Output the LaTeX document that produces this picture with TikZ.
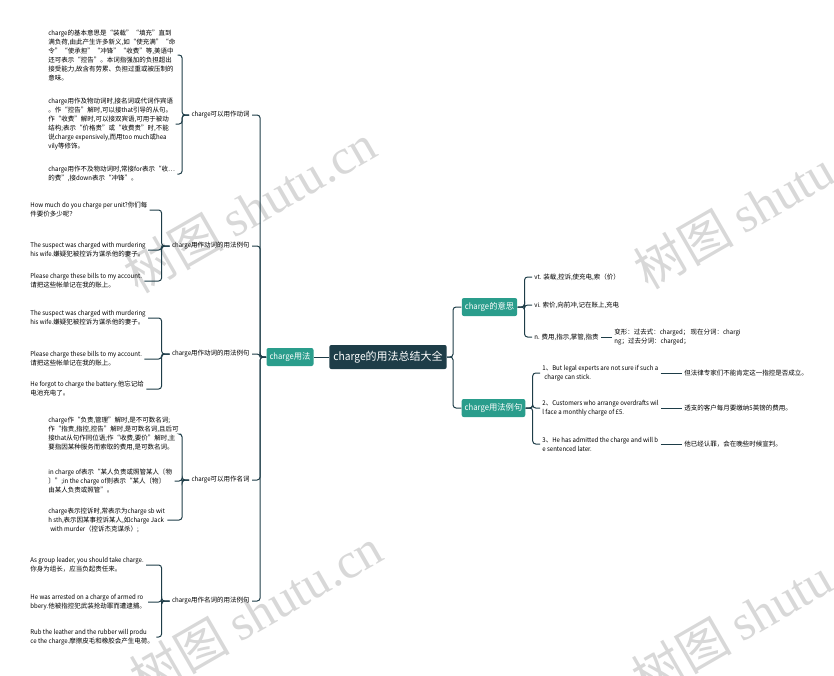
\documentclass[tikz,border=0pt]{standalone}
\usepackage{fontspec}
\setmainfont{Noto Sans CJK SC}[FakeStretch=0.93]
\newfontfamily\cjkfont{Noto Sans CJK SC}
\newfontfamily\wmserif{Liberation Serif}
\usepackage{xcolor}
\usepackage{tikz}
\usetikzlibrary{positioning, calc}

% CJK characters in the unstretched font
\XeTeXinterchartokenstate=1
\newXeTeXintercharclass\cjkcls
\newcount\cjkcnt
\def\setcjkrange#1#2{\cjkcnt=#1\relax\loop\XeTeXcharclass\cjkcnt=\cjkcls\relax\ifnum\cjkcnt<#2\relax\advance\cjkcnt by 1\relax\repeat}
\setcjkrange{"4E00}{"9FFF}
\setcjkrange{"3000}{"303F}
\setcjkrange{"FF00}{"FFEF}
\setcjkrange{"2018}{"201D}
\setcjkrange{"2026}{"2026}
\XeTeXinterchartoks 0 \cjkcls = {\begingroup\cjkfont}
\XeTeXinterchartoks 4095 \cjkcls = {\begingroup\cjkfont}
\XeTeXinterchartoks \cjkcls 0 = {\endgroup}
\XeTeXinterchartoks \cjkcls 4095 = {\endgroup}

\definecolor{rootblue}{HTML}{1E3D48}
\definecolor{topicgreen}{HTML}{2A9D8C}
\definecolor{wmgray}{HTML}{D8D8D8}

\begin{document}
\begin{tikzpicture}[x=1pt, y=-1pt, thick]
    % Styles
    \tikzstyle{rootbox} = [rectangle, fill=rootblue, text=white, rounded corners=2pt, inner xsep=4pt, minimum height=24pt, font=\fontsize{11}{13}\selectfont]
    \tikzstyle{topic} = [rectangle, fill=topicgreen, text=white, rounded corners=2pt, inner xsep=3pt, minimum height=18pt, font=\fontsize{8.3}{10}\selectfont]
    \tikzstyle{sublabel} = [inner sep=2pt, font=\fontsize{6.5}{8}\selectfont]
    \tikzstyle{leaf} = [inner sep=2pt, align=left, font=\fontsize{6.5}{9}\selectfont]
    \tikzstyle{line} = [draw, rootblue, line width=1pt, rounded corners=3pt]
    \tikzstyle{wmark} = [text=wmgray, rotate=30, font=\fontsize{50}{50}\selectfont]

    \useasboundingbox (0,0) rectangle (834,675);

    % Watermarks
    \node [wmark] (wma) at (250,208) {树图 {\wmserif shutu.cn}};
    \node [wmark] (wmb) at (256,612) {树图 {\wmserif shutu.cn}};
    \node [wmark] (wmc) at (760,204) {树图 {\wmserif shutu.cn}};
    \node [wmark] (wmd) at (758,612) {树图 {\wmserif shutu.cn}};

    % Nodes
    \node [rootbox] (root) at (388,357) {charge的用法总结大全};
    \node [topic] (usage) at (290,357) {charge用法};
    \node [topic] (meaning) at (489.5,307) {charge的意思};
    \node [topic] (examples) at (493.5,408) {charge用法例句};

    \node [sublabel, anchor=east] (verb) at (252,115) {charge可以用作动词};
    \node [sublabel, anchor=east] (verbex) at (252,246) {charge用作动词的用法例句};
    \node [sublabel, anchor=east] (verbexb) at (252,354) {charge用作动词的用法例句};
    \node [sublabel, anchor=east] (noun) at (252,480) {charge可以用作名词};
    \node [sublabel, anchor=east] (nounex) at (252,601) {charge用作名词的用法例句};

    \node [leaf, anchor=west] (verba) at (46,55) {charge的基本意思是“装载”“填充”直到\\满负荷,由此产生许多新义,如“使充满”“命\\令”“使承担”“冲锋”“收费”等,美语中\\还可表示“控告”。本词指强加的负担超出\\接受能力,故含有劳累、负担过重或被压制的\\意味。};
    \node [leaf, anchor=west] (verbb) at (46,124) {charge用作及物动词时,接名词或代词作宾语\\。作“控告”解时,可以接that引导的从句。\\作“收费”解时,可以接双宾语,可用于被动\\结构;表示“价格贵”或“收费贵”时,不能\\说charge expensively,而用too much或hea\\vily等修饰。};
    \node [leaf, anchor=west] (verbc) at (46,174) {charge用作不及物动词时,常接for表示“收…\\的费”,接down表示“冲锋”。};

    \node [leaf, anchor=west] (vexa) at (28,210) {How much do you charge per unit?你们每\\件要价多少呢？};
    \node [leaf, anchor=west] (vexb) at (28,250) {The suspect was charged with murdering\\his wife.嫌疑犯被控诉为谋杀他的妻子。};
    \node [leaf, anchor=west] (vexc) at (28,281) {Please charge these bills to my account.\\请把这些帐单记在我的账上。};

    \node [leaf, anchor=west] (vexd) at (28,318) {The suspect was charged with murdering\\his wife.嫌疑犯被控诉为谋杀他的妻子。};
    \node [leaf, anchor=west] (vexe) at (28,359) {Please charge these bills to my account.\\请把这些帐单记在我的账上。};
    \node [leaf, anchor=west] (vexf) at (28,389) {He forgot to charge the battery.他忘记给\\电池充电了。};

    \node [leaf, anchor=west] (nouna) at (46,434) {charge作“负责,管理”解时,是不可数名词;\\作“指责,指控,控告”解时,是可数名词,且后可\\接that从句作同位语;作“收费,要价”解时,主\\要指因某种服务而索取的费用,是可数名词。};
    \node [leaf, anchor=west] (nounb) at (46,481) {in charge of表示“某人负责或照管某人〔物\\〕”;in the charge of则表示“某人〔物〕\\由某人负责或照管”。};
    \node [leaf, anchor=west] (nounc) at (46,520) {charge表示控诉时,常表示为charge sb wit\\h sth,表示因某事控诉某人,如charge Jack\\\hspace{2pt}with murder（控诉杰克谋杀）;};

    \node [leaf, anchor=west] (nexa) at (28,565) {As group leader, you should take charge.\\你身为组长，应当负起责任来。};
    \node [leaf, anchor=west] (nexb) at (28,602) {He was arrested on a charge of armed ro\\bbery.他被指控犯武装抢劫罪而遭逮捕。};
    \node [leaf, anchor=west] (nexc) at (28,637) {Rub the leather and the rubber will produ\\ce the charge.摩擦皮毛和橡胶会产生电荷。};

    \node [leaf, anchor=west] (vt) at (532,277) {vt. 装载,控诉,使充电,索（价）};
    \node [leaf, anchor=west] (vi) at (532,305) {vi. 索价,向前冲,记在账上,充电};
    \node [leaf, anchor=west] (nn) at (532,337) {n. 费用,指示,掌管,指责};
    \node [leaf, anchor=west] (forms) at (612,337) {变形：过去式：charged；\ 现在分词：chargi\\ng；过去分词：charged；};

    \node [leaf, anchor=west] (exa) at (540,373) {1、But legal experts are not sure if such a\\\hspace{2pt}charge can stick.};
    \node [leaf, anchor=west] (exb) at (540,408) {2、Customers who arrange overdrafts wil\\l face a monthly charge of £5.};
    \node [leaf, anchor=west] (exc) at (540,444) {3、He has admitted the charge and will b\\e sentenced later.};
    \node [leaf, anchor=west] (tra) at (682,373) {但法律专家们不能肯定这一指控是否成立。};
    \node [leaf, anchor=west] (trb) at (682,408) {透支的客户每月要缴纳5英镑的费用。};
    \node [leaf, anchor=west] (trc) at (682,444) {他已经认罪，会在晚些时候宣判。};

    % Edges
    \draw [line] (usage) -- (root);
    \draw [line] (usage.west) -- ++(-6,0) |- (verb.east);
    \draw [line] (usage.west) -- ++(-6,0) |- (verbex.east);
    \draw [line] (usage.west) -- ++(-6,0) |- (verbexb.east);
    \draw [line] (usage.west) -- ++(-6,0) |- (noun.east);
    \draw [line] (usage.west) -- ++(-6,0) |- (nounex.east);

    \draw [line] (verb.west) -- ++(-7,0) |- (verba.east);
    \draw [line] (verb.west) -- ++(-7,0) |- (verbb.east);
    \draw [line] (verb.west) -- ++(-7,0) |- (verbc.east);
    \draw [line] (verbex.west) -- ++(-8,0) |- (vexa.east);
    \draw [line] (verbex.west) -- ++(-8,0) |- (vexb.east);
    \draw [line] (verbex.west) -- ++(-8,0) |- (vexc.east);
    \draw [line] (verbexb.west) -- ++(-8,0) |- (vexd.east);
    \draw [line] (verbexb.west) -- ++(-8,0) |- (vexe.east);
    \draw [line] (verbexb.west) -- ++(-8,0) |- (vexf.east);
    \draw [line] (noun.west) -- ++(-7,0) |- (nouna.east);
    \draw [line] (noun.west) -- ++(-7,0) |- (nounb.east);
    \draw [line] (noun.west) -- ++(-7,0) |- (nounc.east);
    \draw [line] (nounex.west) -- ++(-8,0) |- (nexa.east);
    \draw [line] (nounex.west) -- ++(-8,0) |- (nexb.east);
    \draw [line] (nounex.west) -- ++(-8,0) |- (nexc.east);

    \draw [line] (root.east) -- ++(6,0) |- (meaning.west);
    \draw [line] (root.east) -- ++(6,0) |- (examples.west);
    \draw [line] (meaning.east) -- ++(7,0) |- (vt.west);
    \draw [line] (meaning.east) -- ++(7,0) |- (vi.west);
    \draw [line] (meaning.east) -- ++(7,0) |- (nn.west);
    \draw [line] (nn) -- (forms);
    \draw [line] (examples.east) -- ++(7,0) |- (exa.west);
    \draw [line] (examples.east) -- ++(7,0) |- (exb.west);
    \draw [line] (examples.east) -- ++(7,0) |- (exc.west);
    \draw [line] (exa) -- (tra);
    \draw [line] (exb) -- (trb);
    \draw [line] (exc) -- (trc);
\end{tikzpicture}
\end{document}
